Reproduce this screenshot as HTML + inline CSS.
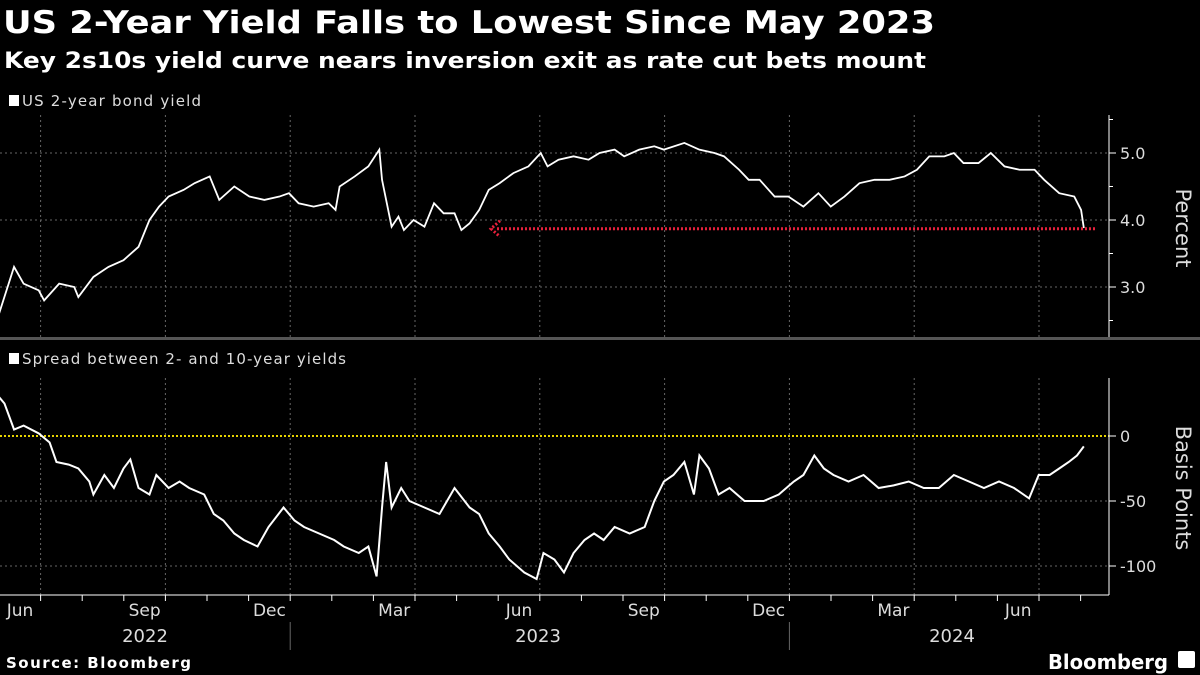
<!DOCTYPE html>
<html><head><meta charset="utf-8"><style>
body{margin:0;background:#000;width:1200px;height:675px;overflow:hidden;font-family:"DejaVu Sans","Liberation Sans",sans-serif;color:#fff}
svg{position:absolute;left:0;top:0;font-family:"DejaVu Sans","Liberation Sans",sans-serif}
</style></head><body>
<svg id="c" width="1200" height="675">
<text x="3" y="33" font-size="31" font-weight="bold" fill="#fff" textLength="932" lengthAdjust="spacingAndGlyphs">US 2-Year Yield Falls to Lowest Since May 2023</text>
<text x="4" y="68" font-size="22" font-weight="bold" fill="#fff" textLength="922" lengthAdjust="spacingAndGlyphs">Key 2s10s yield curve nears inversion exit as rate cut bets mount</text>
<rect x="9" y="95" width="10" height="11" fill="#fff"/>
<text x="22" y="106" font-size="15" fill="#ddd" textLength="179">US 2-year bond yield</text>
<rect x="0" y="337" width="1200" height="3" fill="#555"/>
<rect x="9" y="353" width="10" height="11" fill="#fff"/>
<text x="22" y="364" font-size="15" fill="#ddd" textLength="324">Spread between 2- and 10-year yields</text>
<text transform="translate(1176,228) rotate(90)" text-anchor="middle" font-size="21" fill="#ddd">Percent</text>
<text transform="translate(1176,488) rotate(90)" text-anchor="middle" font-size="21" fill="#ddd">Basis Points</text>
<text x="145" y="642" text-anchor="middle" font-size="18" fill="#ddd">2022</text>
<text x="538" y="642" text-anchor="middle" font-size="18" fill="#ddd">2023</text>
<text x="952" y="642" text-anchor="middle" font-size="18" fill="#ddd">2024</text>
<text x="6" y="668" font-size="15" font-weight="bold" fill="#fff" textLength="185">Source: Bloomberg</text>
<text x="1048" y="669" font-size="20" font-weight="bold" fill="#fff" textLength="120" lengthAdjust="spacingAndGlyphs">Bloomberg</text>
<rect x="1178" y="651" width="17" height="17" rx="2" fill="#fff"/>
<g id="g"></g>
</svg>
<script>
// days since 2022-05-31
const yieldDays=[0,11,18,29,33,44,55,58,69,80,91,102,110,117,124,135,143,154,161,172,183,194,205,212,219,230,241,246,249,260,270,278,280,283,287,292,296,303,311,318,325,333,338,344,351,358,366,376,387,396,401,409,420,431,439,450,457,468,479,486,501,512,523,530,541,548,556,567,577,588,599,608,618,629,640,651,662,671,680,691,698,705,716,725,735,746,757,764,775,786,791,793];
const yieldVals=[2.6,3.3,3.05,2.95,2.8,3.05,3.0,2.85,3.15,3.3,3.4,3.6,4.0,4.2,4.35,4.45,4.55,4.65,4.3,4.5,4.35,4.3,4.35,4.4,4.25,4.2,4.25,4.15,4.5,4.65,4.8,5.05,4.6,4.3,3.9,4.05,3.85,4.0,3.9,4.25,4.1,4.1,3.85,3.95,4.15,4.45,4.55,4.7,4.8,5.0,4.8,4.9,4.95,4.9,5.0,5.05,4.95,5.05,5.1,5.05,5.15,5.05,5.0,4.95,4.75,4.6,4.6,4.35,4.35,4.2,4.4,4.2,4.35,4.55,4.6,4.6,4.65,4.75,4.95,4.95,5.0,4.85,4.85,5.0,4.8,4.75,4.75,4.6,4.4,4.35,4.15,3.88];
const spreadDays=[0,4,11,18,29,37,42,51,58,66,69,77,84,91,96,102,110,115,124,132,139,150,157,164,172,179,189,197,208,216,223,234,245,252,263,270,276,280,283,287,294,300,311,322,333,344,351,358,366,373,384,393,398,406,413,420,428,435,442,450,461,472,479,486,493,501,508,512,519,526,534,545,559,570,581,588,596,603,610,621,632,643,654,665,676,687,698,709,720,731,742,753,760,768,775,782,788,793];
const spreadVals=[30,25,5,8,2,-5,-20,-22,-25,-35,-45,-30,-40,-25,-18,-40,-45,-30,-40,-35,-40,-45,-60,-65,-75,-80,-85,-70,-55,-65,-70,-75,-80,-85,-90,-85,-108,-55,-20,-55,-40,-50,-55,-60,-40,-55,-60,-75,-85,-95,-105,-110,-90,-95,-105,-90,-80,-75,-80,-70,-75,-70,-50,-35,-30,-20,-45,-15,-25,-45,-40,-50,-50,-45,-35,-30,-15,-25,-30,-35,-30,-40,-38,-35,-40,-40,-30,-35,-40,-35,-40,-48,-30,-30,-25,-20,-15,-8];
const monthLabels=["Jun","Sep","Dec","Mar","Jun","Sep","Dec","Mar","Jun"];
const monthLabelMonths=[0,3,6,9,12,15,18,21,24];
const yTicks=[3.0,4.0,5.0];
const bpTicks=[-100,-50,0];
const lowLevel=3.87;

const NS="http://www.w3.org/2000/svg";
const g=document.getElementById('g');
const X=d=>-1+d*1.368;
const M=m=>-1+m*41.6;
const Y1=v=>153+(5-v)*67;
const Y2=v=>436-v*1.3;
function mk(t,a){const e=document.createElementNS(NS,t);for(const k in a)e.setAttribute(k,a[k]);g.appendChild(e);return e;}
for(let m=1;m<=25;m+=3){
 let e=mk('line',{x1:M(m),x2:M(m),y1:115,y2:337,stroke:'#666','stroke-dasharray':'2,3'});
 
 e=mk('line',{x1:M(m),x2:M(m),y1:378,y2:595,stroke:'#666','stroke-dasharray':'2,3'});
 
}
yTicks.forEach(v=>{
 let e=mk('line',{x1:0,x2:1109,y1:Y1(v),y2:Y1(v),stroke:'#666','stroke-dasharray':'2,3'});
 
 e=mk('line',{x1:1109,x2:1116,y1:Y1(v),y2:Y1(v),stroke:'#fff'});
 
 e=mk('text',{x:1120,y:Y1(v)+6,'font-size':16,fill:'#ddd'});e.textContent=v.toFixed(1);
 
});
for(let v=2.5;v<=5.5;v+=0.5){const e=mk('line',{x1:1109,x2:1113,y1:Y1(v),y2:Y1(v),stroke:'#fff'});
 }
bpTicks.forEach(v=>{
 let e;
 if(v!==0){e=mk('line',{x1:0,x2:1109,y1:Y2(v),y2:Y2(v),stroke:'#666','stroke-dasharray':'2,3'});
 }
 e=mk('line',{x1:1109,x2:1116,y1:Y2(v),y2:Y2(v),stroke:'#fff'});
 
 e=mk('text',{x:1120,y:Y2(v)+6,'font-size':16,fill:'#ddd'});e.textContent=v;
 
});
let e=mk('line',{x1:0,x2:1109,y1:Y2(0),y2:Y2(0),stroke:'#e6d200','stroke-width':2,'stroke-dasharray':'2,2'});

e=mk('line',{x1:1109,x2:1109,y1:115,y2:337,stroke:'#fff'});

e=mk('line',{x1:1109,x2:1109,y1:378,y2:595,stroke:'#fff'});

e=mk('line',{x1:0,x2:1109,y1:595,y2:595,stroke:'#fff'});

for(let m=1;m<=26;m++){e=mk('line',{x1:M(m),x2:M(m),y1:595,y2:601,stroke:'#fff'});
 }
[7,19].forEach(m=>{e=mk('line',{x1:M(m),x2:M(m),y1:622,y2:650,stroke:'#666'});
 });
monthLabels.forEach((l,i)=>{e=mk('text',{x:Math.max(M(monthLabelMonths[i]+0.5),20),y:616,'text-anchor':'middle','font-size':17,fill:'#ddd'});e.textContent=l;
 });
e=mk('polyline',{points:yieldDays.map((d,i)=>X(d)+','+Y1(yieldVals[i])).join(' '),fill:'none',stroke:'#fff','stroke-width':1.8});

e=mk('polyline',{points:spreadDays.map((d,i)=>X(d)+','+Y2(spreadVals[i])).join(' '),fill:'none',stroke:'#fff','stroke-width':2});

const ay=Y1(lowLevel);
e=mk('line',{x1:497,x2:1097,y1:ay,y2:ay,stroke:'#e8203c','stroke-width':3,'stroke-dasharray':'2,2'});

e=mk('polyline',{points:`${500},${ay-8} ${491},${ay} ${500},${ay+8}`,fill:'none',stroke:'#e8203c','stroke-width':3,'stroke-dasharray':'2,2'});

</script>
</body></html>
